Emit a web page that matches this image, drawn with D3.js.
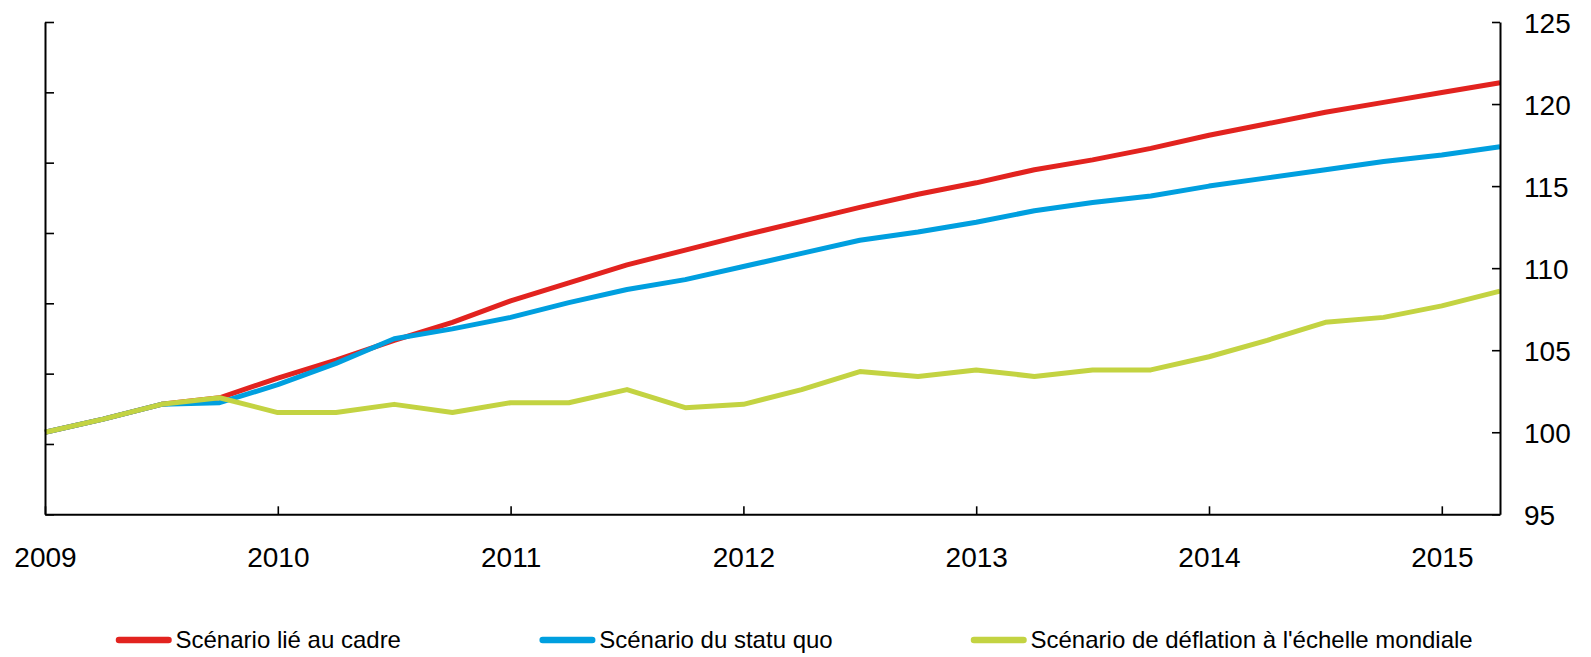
<!DOCTYPE html>
<html>
<head>
<meta charset="utf-8">
<script src="https://cdn.jsdelivr.net/npm/d3@7"></script>
<style>
  html, body { margin: 0; padding: 0; background: #fff; }
  svg { display: block; }
  text { font-family: "Liberation Sans", Arial, sans-serif; fill: #000; }
</style>
</head>
<body>
<svg id="chart" width="1591" height="657"></svg>
<script>
// ---- data ----
const quarters = d3.range(26).map(i => 2009 + i * 0.25); // 2009Q1 .. 2015Q2
const yearTicks = [2009, 2010, 2011, 2012, 2013, 2014, 2015];
const rightTicks = [95, 100, 105, 110, 115, 120, 125];
const leftTickCount = 7;

const seriesNames = [
  "Scénario lié au cadre",
  "Scénario du statu quo",
  "Scénario de déflation à l'échelle mondiale"
];
const seriesColors = ["#e2231f", "#009fdf", "#c3d342"];

const cadre = [100, 100.8, 101.7, 102.1, 103.3, 104.4, 105.6, 106.7, 108.0, 109.1,
  110.2, 111.1, 112.0, 112.85, 113.7, 114.5, 115.2, 116.0, 116.6, 117.3,
  118.1, 118.8, 119.5, 120.1, 120.7, 121.3];
const statuQuo = [100, 100.8, 101.7, 101.8, 102.9, 104.2, 105.7, 106.3, 107.0, 107.9,
  108.7, 109.3, 110.1, 110.9, 111.7, 112.2, 112.8, 113.5, 114.0, 114.4,
  115.0, 115.5, 116.0, 116.5, 116.9, 117.4];
const deflation = [100, 100.8, 101.7, 102.1, 101.2, 101.2, 101.7, 101.2, 101.8, 101.8,
  102.6, 101.5, 101.7, 102.6, 103.7, 103.4, 103.8, 103.4, 103.8, 103.8,
  104.6, 105.6, 106.7, 107.0, 107.7, 108.6];
const seriesValues = [cadre, statuQuo, deflation];

// ---- layout ----
const svg = d3.select("#chart");
const L = 45, R = 1500, T = 22, B = 514.3;

const x = d3.scaleLinear().domain([2009, 2015.25]).range([L, R]);
const y = d3.scaleLinear().domain([95, 125]).range([B, T]);
const yLeft = d3.scaleLinear().domain([0, leftTickCount]).range([B, T]);

// ---- lines ----
const line = d3.line().x((d, i) => x(quarters[i])).y(d => y(d));
svg.append("g").selectAll("path")
  .data(seriesValues)
  .join("path")
  .attr("d", d => line(d))
  .attr("fill", "none")
  .attr("stroke", (d, i) => seriesColors[i])
  .attr("stroke-width", 5)
  .attr("stroke-linejoin", "round")
  .attr("stroke-linecap", "butt");

// ---- axes ----
function styleAxis(g) {
  g.select(".domain").attr("stroke", "#000").attr("stroke-width", 2);
  g.selectAll(".tick line").attr("stroke", "#000").attr("stroke-width", 1.6);
}

// bottom axis: ticks pointing up
const gx = svg.append("g").attr("transform", `translate(0,${B})`)
  .call(d3.axisBottom(x).tickValues(yearTicks).tickSizeInner(-8).tickSizeOuter(0)
    .tickFormat(d3.format("d")));
styleAxis(gx);
gx.selectAll(".tick text")
  .attr("y", 52.4).attr("dy", 0)
  .style("font-size", "28px")
  .style("font-family", "'Liberation Sans', Arial, sans-serif");

// left axis: ticks pointing right, no labels
const gl = svg.append("g").attr("transform", `translate(${L},0)`)
  .call(d3.axisLeft(yLeft).ticks(leftTickCount).tickSizeInner(-9).tickSizeOuter(0)
    .tickFormat(""));
styleAxis(gl);

// right axis: ticks pointing left, labels to the right
const gr = svg.append("g").attr("transform", `translate(${R},0)`)
  .call(d3.axisRight(y).tickValues(rightTicks).tickSizeInner(-8).tickSizeOuter(0)
    .tickFormat(d3.format("d")));
styleAxis(gr);
gr.selectAll(".tick text")
  .attr("x", 24).attr("dy", 0).attr("y", 10.4)
  .attr("text-anchor", "start")
  .style("font-size", "28px")
  .style("font-family", "'Liberation Sans', Arial, sans-serif");

// ---- legend ----
const legendX = [116, 539.7, 971];
const legendY = 640;
const lg = svg.append("g").selectAll("g")
  .data(seriesNames)
  .join("g")
  .attr("transform", (d, i) => `translate(${legendX[i]},${legendY})`);
lg.append("line")
  .attr("x1", 3).attr("x2", 52.5).attr("y1", 0).attr("y2", 0)
  .attr("stroke", (d, i) => seriesColors[i])
  .attr("stroke-width", 6.5)
  .attr("stroke-linecap", "round");
lg.append("text")
  .attr("x", 59.5).attr("y", 8.3)
  .style("font-size", "24px")
  .text(d => d);
</script>
</body>
</html>
